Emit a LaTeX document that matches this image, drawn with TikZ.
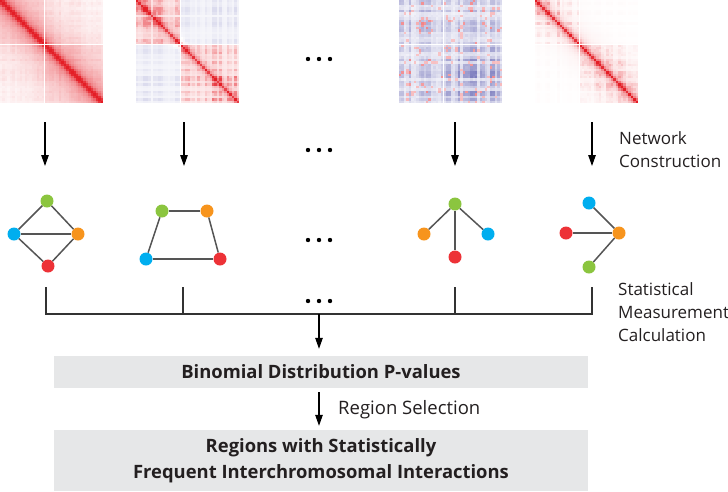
\documentclass[tikz,border=0pt]{standalone}
\usepackage{fontspec}
\setmainfont{Open Sans}
\usetikzlibrary{arrows.meta}
\definecolor{hmred}{RGB}{228,30,38}
\definecolor{hmblue}{RGB}{80,80,168}
\definecolor{cgreen}{RGB}{139,197,63}
\definecolor{cblue}{RGB}{0,174,239}
\definecolor{corange}{RGB}{247,148,29}
\definecolor{cred}{RGB}{237,50,55}
\definecolor{boxgray}{RGB}{230,231,232}
\definecolor{txt}{RGB}{35,31,32}
\definecolor{linec}{RGB}{50,50,50}
\definecolor{edgec}{RGB}{85,85,85}
% heat map: #1 left x, #2 formula, #3 seed
\newcommand{\drawhm}[3]{%
  \foreach \i in {0,...,41}{%
    \pgfmathsetmacro\ri{frac(abs(sin(\i*91.3+#3)*431.7))}%
    \foreach \j in {0,...,41}{%
      \pgfmathsetmacro\rj{frac(abs(sin(\j*91.3+#3)*431.7))}%
      \pgfmathsetmacro\pl{\ri*\rj}%
      \pgfmathsetmacro\dd{abs(\i-\j)}%
      \pgfmathsetmacro\nz{frac(abs(sin(\i*\j*5.17+(\i+\j)*41.3+#3)*431.7))}%
      \pgfmathsetmacro\sb{((\i<18)==(\j<18))}%
      \pgfmathsetmacro\lr{(\i>17)*(\j>17)}%
      \pgfmathsetmacro\s{#2}%
      \ifdim\s pt>0pt \def\col{hmred}\else\def\col{hmblue}\fi
      \pgfmathsetmacro\p{min(100,abs(\s))}%
      \fill[\col!\p!white] ({#1+\j*103/42},{\i*103/42}) rectangle ++(2.75,2.75);
    }}%
  \draw[white,line width=1pt] ({#1+18*103/42},0) -- ++(0,103);
  \draw[white,line width=1pt] (#1,{18*103/42}) -- ++(103,0);
}
\tikzset{
  vtx/.style={circle,minimum size=13pt,inner sep=0pt,draw=none},
  edg/.style={draw=edgec,line width=1.5pt},
  arr/.style={draw=black,line width=1.2pt,-{Triangle[length=11pt,width=7.5pt]}},
  brk/.style={draw=linec,line width=1.2pt},
  lbl/.style={anchor=west,align=left,text=txt,font=\fontsize{17}{23}\selectfont,inner sep=0pt},
  gbox/.style={fill=boxgray,draw=none,text=txt,font=\bfseries\fontsize{18.4}{26}\selectfont,align=center,inner sep=0pt},
  dotc/.style={fill=black}
}
\begin{document}
\begin{tikzpicture}[x=1pt,y=-1pt]
\useasboundingbox (0,0) rectangle (728,491);
% heat maps
\drawhm{0}{75*exp(-\dd/1.3)+30*exp(-\dd/7)+22*exp(-\dd/18)+\sb*5+10*\pl+3*\nz}{11}
\drawhm{136}{70*exp(-\dd/1.3)+\sb*(12+40*\pl*\nz+40*\pl)*exp(-\dd/30)-(1-\sb)*(5+16*\pl)}{23}
\drawhm{399}{(\nz>0.9)*(25+35*\pl)-(\nz<=0.9)*(6+75*\pl*(0.55+0.45*\lr)+8*\nz)}{37}
\drawhm{535}{75*exp(-\dd/1.3)+15*exp(-\dd/6)+\sb*(35*\pl*\nz+18*\pl)*exp(-\dd/14)+2*\pl}{51}
\node[minimum size=103pt,inner sep=0pt] (hm1) at (51.5,51.5) {};
\node[minimum size=103pt,inner sep=0pt] (hm2) at (187.5,51.5) {};
\node[minimum size=103pt,inner sep=0pt] (hm3) at (450.5,51.5) {};
\node[minimum size=103pt,inner sep=0pt] (hm4) at (586.5,51.5) {};
% dots
\foreach \yy in {59,150,240,301}{
  \foreach \xx in {308,319,330}{\fill[dotc] (\xx,\yy) circle (2.2pt);}
}
% arrows network construction
\coordinate (a1s) at (45,122); \coordinate (a1e) at (45,166);
\coordinate (a2s) at (184,122); \coordinate (a2e) at (184,166);
\coordinate (a3s) at (455,122); \coordinate (a3e) at (455,166);
\coordinate (a4s) at (592,122); \coordinate (a4e) at (592,166);
\draw[arr] (a1s) -- (a1e);
\draw[arr] (a2s) -- (a2e);
\draw[arr] (a3s) -- (a3e);
\draw[arr] (a4s) -- (a4e);
\node[lbl] (netc) at (619,150) {Network\\Construction};
% graph 1
\node[vtx,fill=cgreen] (g1g) at (47,201) {};
\node[vtx,fill=cblue] (g1b) at (14,234) {};
\node[vtx,fill=corange] (g1o) at (78,234) {};
\node[vtx,fill=cred] (g1r) at (48,266) {};
% graph 2
\node[vtx,fill=cgreen] (g2g) at (162,211) {};
\node[vtx,fill=corange] (g2o) at (207,211) {};
\node[vtx,fill=cblue] (g2b) at (146,259) {};
\node[vtx,fill=cred] (g2r) at (220,259) {};
% graph 3
\node[vtx,fill=cgreen] (g3g) at (455,204) {};
\node[vtx,fill=corange] (g3o) at (424,234) {};
\node[vtx,fill=cblue] (g3b) at (488,234) {};
\node[vtx,fill=cred] (g3r) at (455,257) {};
% graph 4
\node[vtx,fill=cblue] (g4b) at (589,203) {};
\node[vtx,fill=corange] (g4o) at (619,233) {};
\node[vtx,fill=cred] (g4r) at (566,233) {};
\node[vtx,fill=cgreen] (g4g) at (589,267) {};
\draw[edg] (g1g) -- (g1b); \draw[edg] (g1g) -- (g1o); \draw[edg] (g1b) -- (g1o);
\draw[edg] (g1b) -- (g1r); \draw[edg] (g1o) -- (g1r);
\draw[edg] (g2g) -- (g2o); \draw[edg] (g2g) -- (g2b); \draw[edg] (g2o) -- (g2r); \draw[edg] (g2b) -- (g2r);
\draw[edg] (g3g) -- (g3o); \draw[edg] (g3g) -- (g3b); \draw[edg] (g3g) -- (g3r);
\draw[edg] (g4o) -- (g4b); \draw[edg] (g4o) -- (g4r); \draw[edg] (g4o) -- (g4g);
% bracket
\coordinate (b1) at (46,287); \coordinate (b2) at (183,287);
\coordinate (b3) at (455,287); \coordinate (b4) at (592,287);
\coordinate (h1) at (46,314); \coordinate (h2) at (183,314);
\coordinate (h3) at (455,314); \coordinate (h4) at (592,314);
\draw[brk] (b1) -- (h1) -- (h4) -- (b4);
\draw[brk] (b2) -- (h2);
\draw[brk] (b3) -- (h3);
\node[lbl] (smc) at (618,312) {Statistical\\Measurement\\Calculation};
% boxes
\node[gbox,minimum width=534pt,minimum height=32pt] (box1) at (321,372) {Binomial Distribution P-values};
\node[gbox,minimum width=534pt,minimum height=61pt] (box2) at (321,460.5) {Regions with Statistically\\Frequent Interchromosomal Interactions};
\coordinate (hm) at (319,314);
\draw[arr] (hm) -- ([yshift=7pt]box1.north -| hm);
\draw[arr] ([yshift=-4pt]box1.south -| hm) -- ([yshift=4pt]box2.north -| hm);
\node[lbl,font=\fontsize{18.5}{23}\selectfont] (rsel) at (338,410) {Region Selection};
\end{tikzpicture}
\end{document}
